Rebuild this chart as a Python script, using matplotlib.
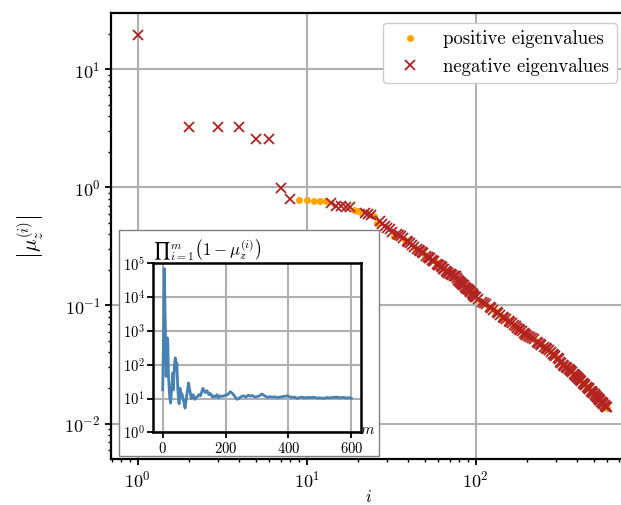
import numpy as np
import matplotlib
matplotlib.use('Agg')
import matplotlib.pyplot as plt
from matplotlib.patches import Rectangle
from matplotlib.ticker import LogLocator, NullFormatter

plt.rcParams['font.family'] = 'serif'
plt.rcParams['font.serif'] = ['cmr10']
plt.rcParams['mathtext.fontset'] = 'cm'
plt.rcParams['axes.formatter.use_mathtext'] = True
plt.rcParams['axes.unicode_minus'] = False

# eigenvalue index i and |mu_z^(i)|
idx = [1, 2, 3, 4, 5, 6, 7, 8, 9, 10, 11, 12, 13, 14, 15, 16, 17, 18, 19, 20,
       21, 22, 23, 24, 25, 26, 27, 28, 29, 30, 31, 32, 33, 34, 35, 36, 37, 38, 39, 40,
       41, 42, 43, 44, 45, 46, 47, 48, 49, 50, 51, 52, 53, 54, 55, 56, 57, 58, 59, 60,
       61, 62, 63, 64, 65, 66, 67, 68, 69, 70, 71, 72, 73, 74, 75, 76, 77, 78, 79, 80,
       81, 82, 83, 84, 85, 86, 87, 88, 89, 90, 91, 92, 93, 94, 95, 96, 97, 98, 99,
       100, 103, 106, 109, 112, 115, 118, 121, 124, 127, 130, 133, 136, 139, 142, 145,
       148, 151, 154, 157, 160, 163, 166, 169, 172, 175, 178, 181, 184, 187, 190, 193,
       196, 199, 202,
       205, 210, 215, 220, 225, 230, 235, 240, 245, 250, 255, 260, 265, 270, 275, 280,
       285, 290, 295, 300, 305, 310, 315, 320, 325, 330, 335, 340, 345, 350, 355, 360,
       365, 370, 375, 380, 385, 390, 395, 400, 405, 410, 415, 420, 425, 430, 435, 440,
       445, 450, 455, 460, 465, 470, 475, 480, 485, 490, 495, 500, 505, 510, 515, 520,
       525, 530, 535, 540, 545, 550, 555, 560, 565, 570, 575, 580, 585, 590, 595, 600]
mu_abs = [19.4, 3.24, 3.24, 3.24, 2.58, 2.58, 0.99, 0.79, 0.78, 0.775, 0.77, 0.765, 0.76,
          0.74, 0.70, 0.69, 0.68, 0.675, 0.64, 0.63, 0.615, 0.61, 0.595, 0.58, 0.575, 0.50,
          0.52, 0.49, 0.47, 0.45, 0.44, 0.42, 0.39, 0.40, 0.395, 0.385, 0.37, 0.36, 0.35,
          0.345, 0.335, 0.325, 0.31, 0.305, 0.30,
          0.295, 0.290, 0.282, 0.276, 0.268, 0.262, 0.258, 0.252, 0.250, 0.243, 0.238,
          0.236, 0.232, 0.226, 0.222, 0.219, 0.216, 0.210, 0.205, 0.203, 0.200, 0.196,
          0.192, 0.189, 0.186, 0.184, 0.182, 0.180, 0.178, 0.178, 0.176, 0.171, 0.168,
          0.163, 0.160, 0.157, 0.155, 0.152, 0.150, 0.148, 0.146, 0.143, 0.141, 0.139,
          0.137, 0.135, 0.133, 0.131, 0.129, 0.127, 0.125, 0.123, 0.121, 0.119,
          0.117, 0.1135, 0.110, 0.107, 0.1045, 0.102, 0.0995, 0.097, 0.0945, 0.092, 0.0897,
          0.0876, 0.0856, 0.0837, 0.0818, 0.080, 0.0783, 0.0766, 0.075, 0.0735, 0.072,
          0.0705, 0.069, 0.0677, 0.0664, 0.0651, 0.0639, 0.0627, 0.0616, 0.0605, 0.0595,
          0.0585, 0.0576, 0.0566, 0.0557,
          0.0555, 0.0542, 0.0530, 0.0518, 0.0506, 0.0495, 0.0484, 0.0474, 0.0464, 0.0455,
          0.0446, 0.0438, 0.0428, 0.0419, 0.0410, 0.0401, 0.0391, 0.0382, 0.0373, 0.0365,
          0.0357, 0.0349, 0.0334, 0.0328, 0.0321, 0.0315, 0.0310, 0.0304, 0.0298, 0.0293,
          0.0288, 0.0283, 0.0278, 0.0273, 0.0268, 0.0263, 0.0258, 0.0253, 0.0249, 0.0245,
          0.0241, 0.0237, 0.0233, 0.0229, 0.0225, 0.0222, 0.0218, 0.0215, 0.0212, 0.0208,
          0.0205, 0.0202, 0.0199, 0.0196, 0.0193, 0.0190, 0.0187, 0.0185, 0.0182, 0.0180,
          0.0177, 0.0174, 0.0172, 0.0169, 0.0167, 0.0164, 0.0162, 0.0160, 0.0158, 0.0156,
          0.0153, 0.0151, 0.0149, 0.0147, 0.0145, 0.0143, 0.0141, 0.0139, 0.0137, 0.0135]
# indices whose eigenvalue is positive
pos_idx = [9, 10, 11, 12, 13, 19, 20, 21, 25, 26, 33, 38, 44, 50, 58, 66, 73, 78, 86, 94,
           106, 118, 130, 142, 154, 166, 178, 190, 202, 225, 250, 275, 300, 325, 350,
           375, 400, 425, 450, 475, 500, 525, 550, 575, 600]

# inset: running product prod_{i<=m} (1 - mu_z^(i))
m_vals = [0, 2, 5, 8, 11, 14, 16, 18, 20, 22, 25, 29, 32, 34, 37, 40, 43, 45, 48, 52,
          55, 58, 61, 67, 71, 76, 82, 86, 91, 97, 102, 109, 115, 120, 128, 135, 141, 147,
          152, 158, 162, 168, 173, 178, 183, 190, 199, 207, 215, 222, 231, 236, 242, 250,
          258, 265, 272, 279, 286, 293, 300, 308, 316, 324, 332, 340, 348, 356, 364, 372,
          380, 388, 396, 404, 412, 420, 427, 435, 443, 451, 460, 470, 480, 490, 500, 512,
          522, 532, 544, 555, 565, 575, 585, 592, 600]
prod_vals = [18, 300, 70000, 2000, 45, 630, 500, 60, 23, 11.5, 7.3, 23, 57, 18, 90, 160,
             70, 113, 18, 7, 20, 11.5, 14, 8, 5.2, 11.5, 29, 18, 10, 13, 9.5, 11, 13, 12,
             20, 15, 17, 13, 14, 11, 12, 11, 13, 10.5, 12, 11.5, 12.5, 13, 16, 14, 11, 9.5,
             10, 11.5, 12, 11, 12.5, 11.8, 12.2, 11, 11.4, 12, 13.6, 12, 10.9, 11.3, 11,
             11.2, 10.6, 11, 11.3, 11.6, 11.9, 11.2, 10.8, 11, 10.1, 10.6, 11, 10.4, 10.8,
             10.6, 10.9, 10.3, 10.5, 10.1, 10.7, 10.4, 10.9, 10.9, 10.5, 10.8, 10.3, 10.6,
             10.1]

idx_arr = np.array(idx)
mu_arr = np.array(mu_abs)
is_pos = np.isin(idx_arr, pos_idx)

fig = plt.figure(figsize=(6.21, 5.05), dpi=100)
ax = fig.add_axes([111 / 621, 46 / 505, 515 / 621, 445.7 / 505])

ax.plot(idx_arr[is_pos], mu_arr[is_pos], 'o', color='orange', ms=4,
        label='positive eigenvalues', zorder=3)
ax.plot(idx_arr[~is_pos], mu_arr[~is_pos], 'x', color='firebrick', ms=7, mew=1.3,
        label='negative eigenvalues', zorder=3)

ax.set_xscale('log')
ax.set_yscale('log')
ax.set_xlim(0.695, 775)
ax.set_ylim(0.00502, 29.7)
ax.grid(True, which='major', color='#b0b0b0', lw=1.5)
ax.spines['right'].set_visible(False)
for s in ['left', 'bottom', 'top']:
    ax.spines[s].set_linewidth(1.6)
ax.tick_params(which='major', direction='out', length=4, width=1.3, labelsize=13)
ax.tick_params(which='minor', direction='out', length=2.5, width=1.0)
ax.set_xlabel('$i$', fontsize=12)
ax.xaxis.set_label_coords(0.5, -0.068)
ax.set_ylabel(r'$\left|\mu_z^{(i)}\right|$', fontsize=15, labelpad=14)
ax.legend(loc='upper right', fontsize=13.5, framealpha=1)

# white box behind the inset
box = Rectangle((119 / 621, 49 / 505), 260 / 621, 226 / 505, transform=fig.transFigure,
                facecolor='white', edgecolor='0.5', lw=1.0, zorder=2)
fig.add_artist(box)

ax_in = fig.add_axes([153.3 / 621, 72.7 / 505, 207.4 / 621, 169 / 505])
ax_in.set_zorder(3)
ax_in.plot(m_vals, prod_vals, color='steelblue', lw=2)
ax_in.set_yscale('log')
ax_in.set_ylim(1, 1e5)
ax_in.set_xlim(-30, 630)
ax_in.set_xticks([0, 200, 400, 600])
ax_in.yaxis.set_major_locator(LogLocator(base=10, numticks=10))
ax_in.yaxis.set_minor_locator(LogLocator(base=10, subs=[], numticks=10))
ax_in.yaxis.set_minor_formatter(NullFormatter())
ax_in.grid(True, color='#b0b0b0', lw=1.5)
for s in ax_in.spines.values():
    s.set_linewidth(1.8)
ax_in.tick_params(direction='out', length=4, width=1.3, labelsize=10.5, pad=2)
ax_in.set_title('$\u220f_{i=1}^{m}\\left(1-\\mu_z^{(i)}\\right)$', loc='left', fontsize=12, pad=3)
ax_in.text(1.035, 0.01, '$m$', transform=ax_in.transAxes, ha='center', va='center', fontsize=11)

fig.savefig('out.png', dpi=100)
